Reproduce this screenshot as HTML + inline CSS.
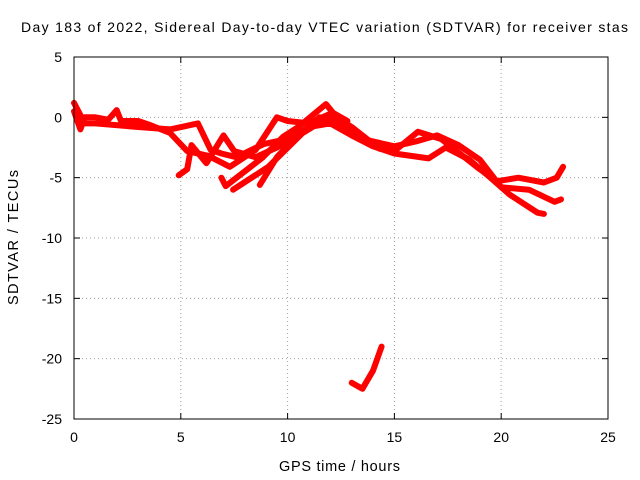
<!DOCTYPE html>
<html><head><meta charset="utf-8"><style>
html,body{margin:0;padding:0;background:#fff;overflow:hidden}
svg{display:block;font-family:"Liberation Sans",sans-serif}
</style></head><body>
<svg id="chart" width="640" height="480" viewBox="0 0 640 480">
<rect width="640" height="480" fill="#fff"/>
<text x="21" y="32" font-size="14" textLength="607" lengthAdjust="spacing" fill="#000">Day 183 of 2022, Sidereal Day-to-day VTEC variation (SDTVAR) for receiver stas</text>
<g id="grid"></g>
<g id="ticks"></g>
<g id="series"></g>
<rect x="74" y="57" width="534" height="362" fill="none" stroke="#000" stroke-width="1"/>
<text x="279" y="471" font-size="14.5" textLength="121" lengthAdjust="spacing">GPS time / hours</text>
<text transform="translate(18,305) rotate(-90)" font-size="14.5" textLength="135" lengthAdjust="spacing">SDTVAR / TECUs</text>
</svg>
<script>
const xTicks=[0,5,10,15,20,25];
const yTicks=[5,0,-5,-10,-15,-20,-25];
const track1X=[0,0.3,0.5,1,1.6,2,2.2,3,3.5,4.5,5.3,6.3,7.3,8.5,9.5,10,11,12,13,14.3,15,16.1,17.2,18.2,19,19.8,20.8,22,22.6,22.9];
const track1Y=[0.5,-1,0,0,-0.2,0.6,-0.3,-0.3,-0.6,-1.3,-2.8,-3.2,-4.1,-2.7,0,-0.3,-0.5,0.3,-0.8,-2.6,-2.8,-1.2,-1.8,-3.2,-4.3,-5.3,-5,-5.4,-5,-4.1];
const track2X=[0,0.5,1,3,4.5,5.8,6.4,6.9,7.6,8.9,10,11,12,13,14,15,16.6,17.4,18.5,19.5,20.4,21.7,22];
const track2Y=[1.2,-0.5,-0.5,-0.8,-1,-0.5,-2.7,-3,-3.3,-2.2,-1.8,-0.8,-0.5,-1.5,-2.4,-3,-3.4,-2.5,-3.5,-5,-6.4,-7.9,-8];
const track3X=[4.9,5.3,5.5,6.2,7,7.5,8.5,9.5,10.5,11.5,12.5,13.5,15,16,17,18,19,20,21.3,22.5,22.8];
const track3Y=[-4.8,-4.3,-2.3,-3.8,-1.5,-2.8,-3.3,-2.5,-1.5,0,-0.5,-1.8,-2.4,-2,-1.5,-2.3,-3.5,-5.8,-6,-7,-6.8];
const track4X=[6.9,7.1,8.85,9.8,10.5,11.8,12.3];
const track4Y=[-5,-5.7,-3.3,-1.6,-0.8,1.1,0];
const track5X=[7.45,9.1,10.7,12.2,12.8];
const track5Y=[-6,-4.1,-1.3,0.3,-0.3];
const track6X=[8.7,9.5,10.4];
const track6Y=[-5.6,-3.3,-1.6];
const track7X=[13,13.5,14,14.4];
const track7Y=[-22,-22.5,-21,-19];
const X0=74,X1=608,Y0=57,Y1=419;
const sx=v=>X0+(v-0)/(25-0)*(X1-X0);
const sy=v=>Y0+(5-v)/(5-(-25))*(Y1-Y0);
const NS="http://www.w3.org/2000/svg";
const grid=document.getElementById('grid'),ticks=document.getElementById('ticks'),ser=document.getElementById('series');
function mk(tag,attrs,parent){const e=document.createElementNS(NS,tag);for(const k in attrs)e.setAttribute(k,attrs[k]);parent.appendChild(e);return e;}
xTicks.forEach(t=>{
  const x=sx(t);
  if(t>0&&t<25){const g=mk('line',{x1:x,x2:x,y1:Y0,y2:Y1,stroke:'#a0a0a0','stroke-dasharray':'1,3','stroke-width':1},grid);
  
  }
  mk('line',{x1:x,x2:x,y1:Y1,y2:Y1-6,stroke:'#000'},ticks);
  mk('line',{x1:x,x2:x,y1:Y0,y2:Y0+6,stroke:'#000'},ticks);
  const l=mk('text',{x:x,y:Y1+23,'font-size':14,'text-anchor':'middle'},ticks);l.textContent=t;
  
  
});
yTicks.forEach(t=>{
  const y=sy(t);
  if(t<5&&t>-25){const g=mk('line',{x1:X0,x2:X1,y1:y,y2:y,stroke:'#a0a0a0','stroke-dasharray':'1,3','stroke-width':1},grid);
  
  }
  mk('line',{x1:X0,x2:X0+6,y1:y,y2:y,stroke:'#000'},ticks);
  mk('line',{x1:X1,x2:X1-6,y1:y,y2:y,stroke:'#000'},ticks);
  const l=mk('text',{x:X0-12,y:y+5,'font-size':14,'text-anchor':'end'},ticks);l.textContent=t;
  
  
});
[[track1X,track1Y],[track2X,track2Y],[track3X,track3Y],[track4X,track4Y],[track5X,track5Y],[track6X,track6Y],[track7X,track7Y]].forEach((s,i)=>{
  const pts=s[0].map((v,j)=>sx(v).toFixed(1)+','+sy(s[1][j]).toFixed(1)).join(' ');
  const p=mk('polyline',{points:pts,fill:'none',stroke:'#ff0000','stroke-width':6,'stroke-linejoin':'round','stroke-linecap':'round'},ser);
  
  
});
</script>
</body></html>
